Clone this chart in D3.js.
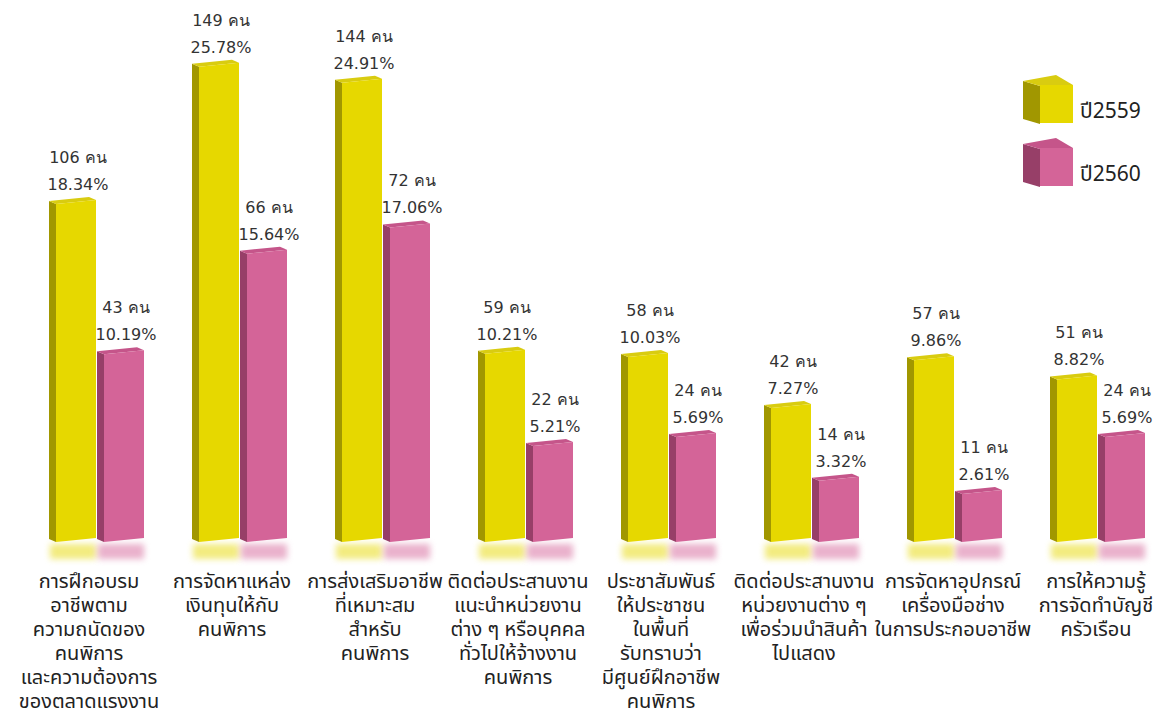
<!DOCTYPE html>
<meta charset="utf-8">
<title>3D grouped bars</title>
<style>
body { margin: 0; background: #fff; }
.val { font: 16px Tahoma, "DejaVu Sans", sans-serif; fill: #333; text-anchor: middle; }
.cat { font: 20px Tahoma, "Noto Sans Thai", "DejaVu Sans", sans-serif; fill: #222; text-anchor: middle; }
.leg { font: 21px Tahoma, "Noto Sans Thai", "DejaVu Sans", sans-serif; fill: #222; }
</style>
<svg id="chart" width="1164" height="726"></svg>
<script src="https://d3js.org/d3.v7.min.js"></script>
<script>

var categories = [
  ["การฝึกอบรม", "อาชีพตาม", "ความถนัดของ", "คนพิการ", "และความต้องการ", "ของตลาดแรงงาน"],
  ["การจัดหาแหล่ง", "เงินทุนให้กับ", "คนพิการ"],
  ["การส่งเสริมอาชีพ", "ที่เหมาะสม", "สำหรับ", "คนพิการ"],
  ["ติดต่อประสานงาน", "แนะนำหน่วยงาน", "ต่าง ๆ หรือบุคคล", "ทั่วไปให้จ้างงาน", "คนพิการ"],
  ["ประชาสัมพันธ์", "ให้ประชาชน", "ในพื้นที่", "รับทราบว่า", "มีศูนย์ฝึกอาชีพ", "คนพิการ"],
  ["ติดต่อประสานงาน", "หน่วยงานต่าง ๆ", "เพื่อร่วมนำสินค้า", "ไปแสดง"],
  ["การจัดหาอุปกรณ์", "เครื่องมือช่าง", "ในการประกอบอาชีพ"],
  ["การให้ความรู้", "การจัดทำบัญชี", "ครัวเรือน"]
];
var years = ["ปี2559", "ปี2560"];
var count2559 = [106, 149, 144, 59, 58, 42, 57, 51];
var pct2559 = [18.34, 25.78, 24.91, 10.21, 10.03, 7.27, 9.86, 8.82];
var count2560 = [43, 66, 72, 22, 24, 14, 11, 24];
var pct2560 = [10.19, 15.64, 17.06, 5.21, 5.69, 3.32, 2.61, 5.69];

var colors = {
  "ปี2559": { front: "#e6d800", side: "#a19700", top: "#d9cc10" },
  "ปี2560": { front: "#d46498", side: "#973f68", top: "#c5558a" }
};

var svg = d3.select("#chart");
var defs = svg.append("defs");
defs.append("filter").attr("id", "blur")
  .attr("x", "-30%").attr("y", "-60%").attr("width", "160%").attr("height", "220%")
  .append("feGaussianBlur").attr("stdDeviation", 3);

var baseY = 542, bw = 40, dx = -7, dy = -3, skew = -4;

var x = d3.scaleBand()
    .domain(d3.range(categories.length))
    .range([49, 49 + 143 * categories.length]);

var series = d3.scaleBand().domain(years).range([0, 96]);

var y = d3.scaleLinear().domain([0, 29.4]).range([baseY, 0]);

var rows = [];
categories.forEach(function(c, i) {
  rows.push({ i: i, year: years[0], count: count2559[i], pct: pct2559[i] });
  rows.push({ i: i, year: years[1], count: count2560[i], pct: pct2560[i] });
});

function pts(a) { return a.map(function(p) { return p.join(","); }).join(" "); }

var g = svg.append("g");

var bar = g.selectAll(".bar")
  .data(rows)
  .enter().append("g")
    .attr("class", "bar");

// reflection under each bar
bar.append("rect")
    .attr("x", function(d) { return x(d.i) + series(d.year) + 1; })
    .attr("y", baseY + 2)
    .attr("width", bw + 6)
    .attr("height", 15)
    .attr("fill", function(d) { return colors[d.year].front; })
    .attr("opacity", 0.5)
    .attr("filter", "url(#blur)");

bar.each(function(d) {
  var el = d3.select(this),
      x0 = x(d.i) + series(d.year) + 7,
      t = y(d.pct),
      c = colors[d.year];
  el.append("polygon").attr("fill", c.side)
    .attr("points", pts([[x0, t], [x0 + dx, t + dy], [x0 + dx, baseY + dy], [x0, baseY]]));
  el.append("polygon").attr("fill", c.top)
    .attr("points", pts([[x0, t], [x0 + bw, t + skew], [x0 + bw + dx, t + skew + dy], [x0 + dx, t + dy]]));
  el.append("polygon").attr("fill", c.front)
    .attr("points", pts([[x0, t], [x0 + bw, t + skew], [x0 + bw, baseY + skew], [x0, baseY]]));
  el.append("text").attr("class", "val")
    .attr("x", x0 + bw / 2 + 2).attr("y", t - 14)
    .text(d.pct.toFixed(2) + "%");
  el.append("text").attr("class", "val")
    .attr("x", x0 + bw / 2 + 2).attr("y", t - 41)
    .text(d.count + " คน");
});

// category labels
var cat = g.selectAll(".cat")
  .data(categories)
  .enter().append("text")
    .attr("class", "cat")
    .attr("transform", function(d, i) { return "translate(" + (x(i) + 40 + (i > 5 ? 6 : 0)) + ",588)"; });

cat.selectAll("tspan")
  .data(function(d) { return d; })
  .enter().append("tspan")
    .attr("x", 0)
    .attr("dy", function(d, j) { return j ? 24 : 0; })
    .text(function(d) { return d; });

// legend
var leg = svg.append("g").attr("transform", "translate(1040,86)");
var item = leg.selectAll("g")
  .data(years)
  .enter().append("g")
    .attr("transform", function(d, i) { return "translate(0," + i * 63 + ")"; });

item.each(function(d) {
  var el = d3.select(this), c = colors[d], w = 33, h = 38, ex = -17, ey = -8;
  el.append("polygon").attr("fill", c.side)
    .attr("points", pts([[0, 0], [ex, ey + 3], [ex, h + ey + 3], [0, h]]));
  el.append("polygon").attr("fill", c.top)
    .attr("points", pts([[0, 0], [w, -1], [w + ex, ey - 3], [ex, ey + 3]]));
  el.append("rect").attr("fill", c.front).attr("width", w).attr("height", h).attr("y", -1);
  el.append("text").attr("class", "leg").attr("x", 40).attr("y", 32).text(d);
});

</script>
